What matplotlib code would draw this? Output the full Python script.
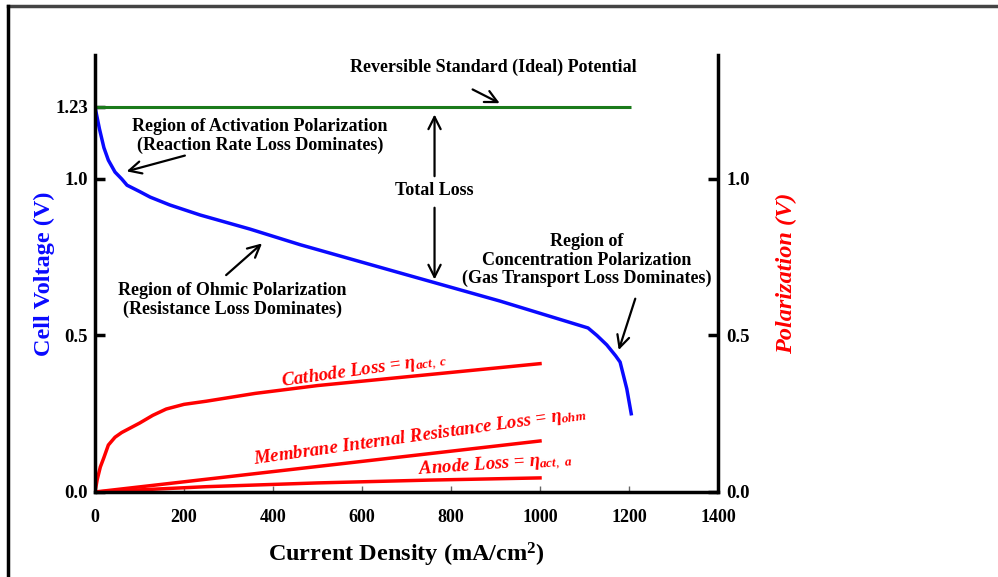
import matplotlib
matplotlib.use("Agg")
import matplotlib.pyplot as plt
from matplotlib.lines import Line2D

plt.rcParams['font.family'] = ['Liberation Serif', 'DejaVu Serif']
plt.rcParams['mathtext.fontset'] = 'custom'
plt.rcParams['mathtext.rm'] = 'Liberation Serif'
plt.rcParams['mathtext.it'] = 'Liberation Serif:italic:bold'
plt.rcParams['mathtext.bf'] = 'Liberation Serif:bold'

# cell voltage curve (blue)
cell_x = [0, 10, 20, 30, 45, 60, 72, 100, 124, 168, 236, 348, 461, 685, 910, 1108, 1128, 1150, 1170, 1180, 1195, 1205]
cell_v = [1.23, 1.16, 1.10, 1.06, 1.022, 1.0, 0.98, 0.96, 0.942, 0.917, 0.885, 0.84, 0.79, 0.70, 0.61, 0.524, 0.50, 0.47, 0.435, 0.415, 0.33, 0.25]

# ideal potential (green)
ideal_x = [0, 1205]
ideal_v = [1.23, 1.23]

# polarization losses (red)
cathode_x = [0, 5, 12, 20, 30, 45, 60, 100, 130, 160, 200, 250, 360, 500, 750, 1000]
cathode_v = [0, 0.04, 0.08, 0.11, 0.15, 0.175, 0.19, 0.22, 0.245, 0.265, 0.28, 0.29, 0.315, 0.34, 0.375, 0.41]
membrane_x = [0, 1000]
membrane_v = [0, 0.163]
anode_x = [0, 250, 500, 750, 1000]
anode_v = [0, 0.017, 0.029, 0.038, 0.045]

x_ticks = [0, 200, 400, 600, 800, 1000, 1200, 1400]
left_ticks = [0.0, 0.5, 1.0, 1.23]
left_labels = ['0.0', '0.5', '1.0', '1.23']
right_ticks = [0.0, 0.5, 1.0]
right_labels = ['0.0', '0.5', '1.0']

fig = plt.figure(figsize=(9.98, 5.77), dpi=100)
ax = fig.add_axes([95/998, 85/577, 623/998, 437/577])

ax.plot(ideal_x, ideal_v, color='#1a7a1a', lw=2.2, solid_capstyle='butt')
ax.plot(cell_x, cell_v, color='#0a0aff', lw=2.5)
ax.plot(cathode_x, cathode_v, color='#ff0000', lw=2.5)
ax.plot(membrane_x, membrane_v, color='#ff0000', lw=2.5)
ax.plot(anode_x, anode_v, color='#ff0000', lw=2.5)

ax.set_xlim(0, 1400)
ax.set_ylim(0, 1.396)
ax.spines['top'].set_visible(False)
for s in ['left', 'right', 'bottom']:
    ax.spines[s].set_linewidth(2.5)
ax.spines['right'].set_visible(False)

ax.set_xticks(x_ticks)
ax.set_xticklabels([str(v) for v in x_ticks], fontsize=13, fontweight='bold')
ax.tick_params(axis='x', direction='in', length=4, width=1, color='#666666', pad=12)
ax.set_yticks(left_ticks)
ax.set_yticklabels(left_labels, fontsize=13.5, fontweight='bold')
ax.tick_params(axis='y', direction='in', length=7, width=2.5, pad=5)

ax2 = ax.twinx()
ax2.set_ylim(0, 1.396)
ax2.spines['top'].set_visible(False)
ax2.spines['left'].set_visible(False)
ax2.spines['bottom'].set_visible(False)
ax2.spines['right'].set_linewidth(2.5)
ax2.set_yticks(right_ticks)
ax2.set_yticklabels(right_labels, fontsize=13.5, fontweight='bold')
ax2.tick_params(axis='y', direction='in', length=7, width=2.5, pad=6)

ax.set_xlabel('Current Density (mA/cm$^\\mathbf{2}$)', fontsize=17.5, fontweight='bold', labelpad=11)
ax.set_ylabel('Cell Voltage (V)', fontsize=17.5, fontweight='bold', color='#0a0aff', labelpad=0)
ax2.set_ylabel('Polarization (V)', fontsize=17.5, fontweight='bold', style='italic', color='#ff0000', labelpad=19)

tkw = dict(fontsize=13, fontweight='bold', ha='center', va='center', linespacing=1.1)
akw = dict(arrowstyle='->', color='black', lw=1.6, mutation_scale=22)

ax.text(894, 1.358, 'Reversible Standard (Ideal) Potential', **tkw)
ax.annotate('', xy=(915, 1.238), xytext=(843, 1.29), arrowprops=akw)

ax.text(371, 1.138, 'Region of Activation Polarization\n(Reaction Rate Loss Dominates)', **tkw)
ax.annotate('', xy=(65, 1.022), xytext=(208, 1.077), arrowprops=akw)

ax.text(763, 0.962, 'Total Loss', **tkw)
ax.annotate('', xy=(763, 1.215), xytext=(763, 1.0), arrowprops=akw)
ax.annotate('', xy=(763, 0.67), xytext=(763, 0.917), arrowprops=akw)

ax.text(308, 0.613, 'Region of Ohmic Polarization\n(Resistance Loss Dominates)', **tkw)
ax.annotate('', xy=(380, 0.80), xytext=(290, 0.687), arrowprops=akw)

ax.text(1106, 0.74, 'Region of\nConcentration Polarization\n(Gas Transport Loss Dominates)', **tkw)
ax.annotate('', xy=(1175, 0.445), xytext=(1216, 0.626), arrowprops=akw)

rkw = dict(fontsize=13.5, fontweight='bold', style='italic', color='#ff0000',
           ha='center', va='center', rotation_mode='anchor')
ax.text(605, 0.385, 'Cathode Loss = $\\mathit{η}_{\\mathit{act,\\ c}}$', rotation=8, **rkw)
ax.text(730, 0.178, 'Membrane Internal Resistance Loss = $\\mathit{η}_{\\mathit{ohm}}$', rotation=8, **rkw)
ax.text(900, 0.083, 'Anode Loss = $\\mathit{η}_{\\mathit{act,\\ a}}$', rotation=4, **rkw)

# page border
fig.add_artist(Line2D([8/998, 1.0], [1 - 6/577, 1 - 6/577], transform=fig.transFigure, color='#444444', lw=2.5))
fig.add_artist(Line2D([8/998, 8/998], [0, 1 - 6/577], transform=fig.transFigure, color='black', lw=2.5))

fig.savefig('out.png', dpi=100)
